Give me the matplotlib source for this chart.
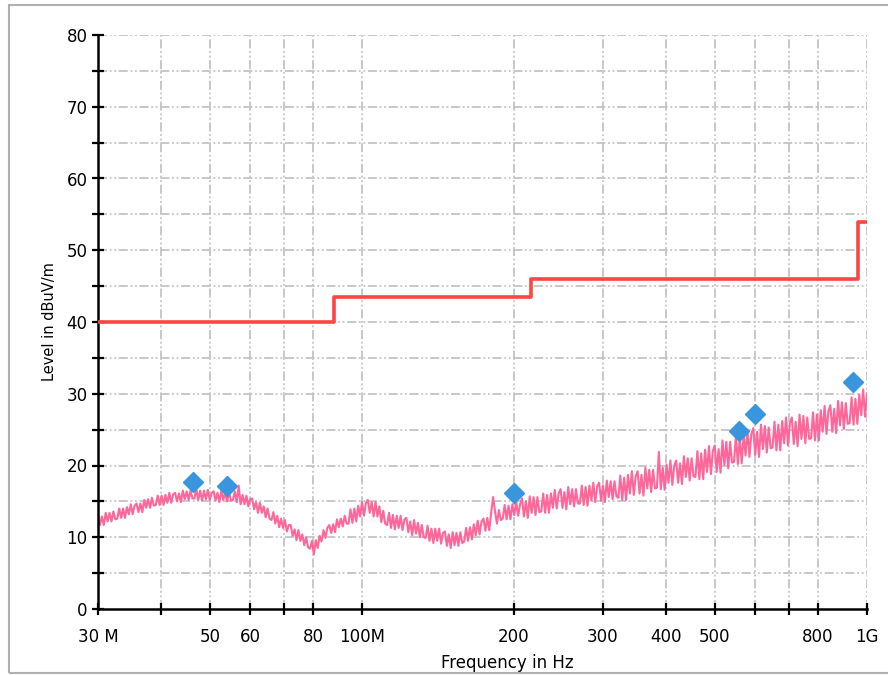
import numpy as np
import matplotlib
matplotlib.use("Agg")
import matplotlib.pyplot as plt
from matplotlib.patches import Rectangle

# ---- data (frequencies in Hz, levels in dBuV/m) ----
# FCC class B limit, step edges
limit_freq = [30e6, 88e6, 216e6, 960e6, 1000e6]
limit_level = [40.0, 43.5, 46.0, 54.0, 54.0]

# QP peak markers
peak_freq = [46.3e6, 54.0e6, 200e6, 558e6, 600e6, 938e6]
peak_level = [17.7, 17.1, 16.2, 24.8, 27.2, 31.6]

# measured pre-scan trace (400 sweep points, log spaced 30 MHz .. 1 GHz)
scan_level = [
    12.9, 11.7, 12.9, 11.7, 13.4, 12.2, 13.4, 12.2, 13.6, 12.5,
    12.6, 14.0, 12.7, 14.0, 12.7, 14.2, 13.2, 14.6, 13.2, 14.4,
    14.7, 13.5, 14.7, 13.5, 15.2, 14.1, 15.3, 14.1, 15.5, 14.4,
    14.5, 15.8, 14.5, 15.8, 14.5, 15.9, 14.8, 16.2, 14.8, 16.0,
    16.2, 15.0, 16.1, 14.9, 16.5, 15.3, 16.4, 15.2, 16.5, 15.4,
    15.4, 16.7, 15.2, 16.5, 15.1, 16.5, 15.3, 16.6, 15.2, 16.2,
    16.4, 15.1, 16.2, 14.9, 16.5, 15.2, 16.3, 15.0, 16.3, 15.1,
    15.2, 16.4, 14.9, 17.2, 14.6, 15.9, 14.6, 15.8, 14.3, 15.3,
    15.4, 13.9, 14.9, 13.4, 14.8, 13.4, 14.3, 12.8, 14.0, 12.6,
    12.4, 13.5, 11.9, 13.0, 11.4, 12.6, 11.3, 12.4, 10.8, 11.7,
    11.7, 10.2, 11.1, 9.6, 11.0, 9.5, 10.4, 8.9, 10.0, 8.6,
    8.4, 9.5, 7.6, 9.6, 8.5, 10.2, 9.4, 11.0, 9.9, 11.3,
    11.7, 10.6, 11.8, 10.7, 12.5, 11.4, 12.6, 11.5, 13.0, 11.9,
    11.9, 13.9, 12.0, 14.0, 12.2, 14.4, 12.9, 14.9, 13.0, 14.8,
    15.2, 13.4, 14.9, 12.9, 14.9, 12.9, 14.3, 12.1, 13.7, 11.9,
    11.7, 13.4, 11.3, 13.1, 11.1, 13.0, 11.3, 13.0, 11.0, 12.5,
    12.7, 10.7, 12.2, 10.3, 12.4, 10.5, 12.0, 10.0, 11.7, 10.0,
    9.9, 11.6, 9.5, 11.2, 9.2, 11.2, 9.5, 11.2, 9.1, 10.6,
    10.8, 8.8, 10.4, 8.5, 10.7, 8.9, 10.6, 8.8, 10.7, 9.2,
    9.4, 11.3, 9.5, 11.4, 9.7, 11.8, 10.3, 12.3, 10.4, 12.2,
    12.6, 10.9, 12.7, 11.0, 13.4, 15.6, 13.6, 11.9, 13.8, 12.4,
    12.6, 14.5, 12.5, 14.4, 12.5, 14.6, 13.1, 14.9, 13.0, 14.6,
    15.4, 12.9, 15.0, 12.7, 15.7, 13.4, 15.6, 13.1, 15.6, 13.5,
    13.6, 16.1, 13.4, 15.9, 13.4, 16.1, 14.1, 16.6, 14.0, 16.1,
    16.7, 14.1, 16.3, 13.9, 17.0, 14.6, 16.7, 14.3, 16.7, 14.7,
    14.7, 17.2, 14.5, 17.0, 14.4, 17.2, 15.1, 17.6, 14.9, 17.1,
    17.6, 15.1, 17.2, 14.9, 17.9, 15.6, 17.8, 15.3, 17.8, 15.7,
    15.5, 18.6, 15.2, 18.3, 15.2, 18.7, 16.1, 19.2, 15.9, 18.5,
    19.2, 16.1, 18.7, 15.8, 19.7, 16.8, 19.4, 16.3, 19.4, 16.8,
    16.9, 21.9, 16.7, 19.7, 16.6, 20.1, 17.6, 20.7, 17.3, 20.0,
    20.7, 17.6, 20.3, 17.4, 21.3, 18.4, 21.0, 17.9, 21.0, 18.5,
    18.4, 22.0, 18.1, 21.7, 18.1, 22.2, 19.1, 22.7, 18.8, 22.0,
    22.8, 19.1, 22.3, 19.0, 23.5, 20.1, 23.3, 19.6, 23.3, 20.4,
    20.5, 24.1, 20.2, 23.9, 20.3, 24.4, 21.4, 25.0, 21.2, 24.4,
    25.2, 21.5, 24.7, 21.2, 25.7, 22.3, 25.5, 21.8, 25.3, 22.4,
    22.5, 26.1, 22.1, 25.7, 22.1, 26.2, 23.1, 26.7, 22.8, 25.9,
    26.7, 23.0, 26.1, 22.7, 27.1, 23.7, 26.9, 23.1, 26.7, 23.7,
    23.8, 27.4, 23.5, 27.1, 23.5, 27.7, 24.7, 28.3, 24.4, 27.6,
    28.4, 24.7, 27.9, 24.5, 29.0, 25.6, 28.8, 25.1, 28.7, 25.8,
    25.9, 29.5, 25.7, 29.3, 25.8, 29.9, 27.0, 30.6, 26.8, 30.0,
]
scan_freq = np.geomspace(30e6, 1e9, len(scan_level))

x_ticks = [30e6, 40e6, 50e6, 60e6, 70e6, 80e6, 100e6, 200e6, 300e6,
           400e6, 500e6, 600e6, 700e6, 800e6, 1e9]
x_ticklabels = ['30 M', '', '50', '60', '', '80', '100M', '200', '300',
                '400', '500', '', '', '800', '1G']

# ---- figure ----
plt.rcParams['font.family'] = ['DejaVu Sans']
fig = plt.figure(figsize=(8.88, 6.75), dpi=100)
ax = fig.add_axes([98 / 888, 1 - 609 / 675, 769 / 888, 574 / 675])

grid_kw = dict(color='#c4c4c4', linewidth=1.3, dashes=(5, 1.5, 1, 1.5, 1, 1.5))
ax.set_xscale('log')
ax.set_xlim(30e6, 1e9)
ax.set_ylim(0, 80)

ax.set_xticks(x_ticks)
ax.set_xticklabels(x_ticklabels)
ax.xaxis.set_minor_locator(matplotlib.ticker.NullLocator())
ax.set_yticks(np.arange(0, 81, 10))
ax.set_yticks(np.arange(5, 80, 10), minor=True)

for x in x_ticks[1:]:
    ax.axvline(x, zorder=0, **grid_kw)
for y in np.arange(5, 81, 5):
    ax.axhline(y, zorder=0, **grid_kw)

ax.plot(scan_freq, scan_level, color='#ff6699', linewidth=1.5, zorder=2)
ax.step(limit_freq, limit_level, where='post', color='#ff4444',
        linewidth=2.6, zorder=3)
ax.plot(peak_freq, peak_level, linestyle='none', marker='D',
        markersize=10, color='#3a96dc', zorder=4)

for side in ['top', 'right']:
    ax.spines[side].set_visible(False)
for side in ['left', 'bottom']:
    ax.spines[side].set_linewidth(1.8)
ax.tick_params(which='both', direction='inout', length=9, width=1.6,
               labelsize=12, colors='black')
ax.tick_params(axis='x', pad=9)
ax.tick_params(axis='y', pad=3)

ax.set_xlabel('Frequency in Hz', fontsize=12)
ax.xaxis.set_label_coords((507 - 98) / 769, -(654 - 609) / 574)
ax.set_ylabel('Level in dBuV/m', fontsize=10.5)
ax.yaxis.set_label_coords(-(98 - 57) / 769, 0.5)

# light frame round the whole figure
fig.patches.append(Rectangle((9 / 888, 1 - 673 / 675), 890 / 888, 668 / 675,
                             transform=fig.transFigure, fill=False,
                             edgecolor='#b0b0b0', linewidth=1.5))

fig.savefig('out.png', dpi=100)
